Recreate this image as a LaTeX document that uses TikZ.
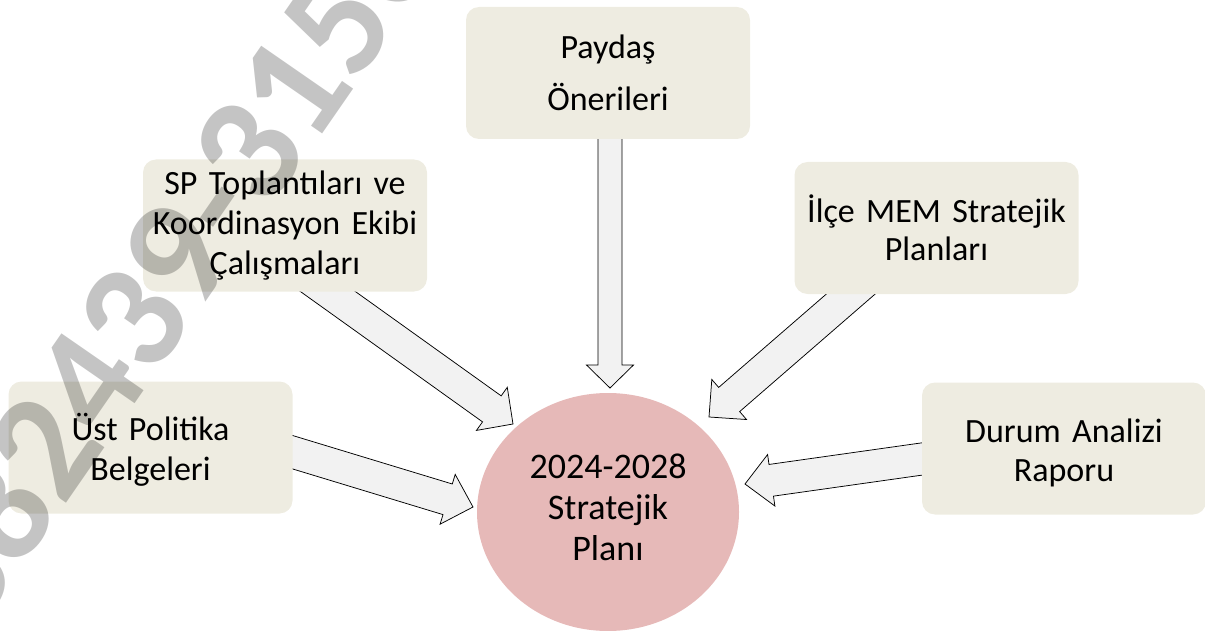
\documentclass[tikz,border=0pt]{standalone}
\usepackage{fontspec}
\setmainfont{Carlito}
\usetikzlibrary{calc,shapes.geometric}
\definecolor{boxfill}{HTML}{EEECE1}
\definecolor{planfill}{HTML}{E6B9B8}
\definecolor{arrfill}{HTML}{F2F2F2}
\tikzset{
  srcbox/.style={rectangle, rounded corners=13pt, fill=boxfill, minimum width=284pt,
    minimum height=132pt, inner sep=0pt, align=center, text width=280pt,
    font=\fontsize{34}{38.5}\selectfont},
  planshape/.style={ellipse, fill=planfill, minimum width=262pt, minimum height=238pt,
    inner sep=0pt, align=center, font=\fontsize{36}{41}\selectfont},
  blockarrow/.style={fill=arrfill, draw=black, line width=0.75pt, line join=miter},
  watermark/.style={font=\fontsize{154}{154}\bfseries\selectfont, text=black,
    text opacity=0.23, inner sep=0pt, rotate=55.3}
}
\newcommand\blockarr[5]{%
  \coordinate (ha) at ($(#2)!#5!(#1)$);
  \filldraw[blockarrow] ($(#1)!#3!-90:(#2)$) -- ($(ha)!#3!90:(#1)$) -- ($(ha)!#4!90:(#1)$)
    -- (#2) -- ($(ha)!#4!-90:(#1)$) -- ($(ha)!#3!-90:(#1)$) -- ($(#1)!#3!90:(#2)$) -- cycle;
}
\begin{document}
\begin{tikzpicture}[x=1pt,y=-1pt]
\useasboundingbox (0,0) rectangle (1205,631);
% arrow ends
\coordinate (pdtail) at (610,120);
\coordinate (pdtip) at (610,388);
\coordinate (sptail) at (302,273);
\coordinate (sptip) at (513,424);
\coordinate (usttail) at (282,449);
\coordinate (usttip) at (473,507);
\coordinate (ilcetail) at (875,273);
\coordinate (ilcetip) at (709,417);
\coordinate (durtail) at (943,456);
\coordinate (durtip) at (745,484);
% block arrows
\blockarr{pdtail}{pdtip}{12pt}{23.5pt}{23pt}
\blockarr{sptail}{sptip}{16pt}{26.5pt}{26pt}
\blockarr{usttail}{usttip}{16pt}{26pt}{26.5pt}
\blockarr{ilcetail}{ilcetip}{16pt}{26.5pt}{26.7pt}
\blockarr{durtail}{durtip}{16pt}{26pt}{26.5pt}
% boxes
\node[srcbox, font=\fontsize{34}{52}\selectfont] (paydas) at (608,73) {Paydaş\\Önerileri};
\node[srcbox, font=\fontsize{34}{40}\selectfont] (sp) at (285,225.5) {SP Toplantıları ve\\Koordinasyon Ekibi\\Çalışmaları};
\node[srcbox, font=\fontsize{34}{40}\selectfont] (ust) at (150.5,447.5) {\rule{0pt}{32pt}Üst Politika\\Belgeleri};
\node[srcbox, font=\fontsize{34}{37.5}\selectfont] (ilce) at (936.5,228) {İlçe MEM Stratejik\\Planları};
\node[srcbox] (durum) at (1064,448.5) {\rule{0pt}{32pt}Durum Analizi\\Raporu};
% centre
\node[planshape] (plan) at (608,512) {2024-2028\\Stratejik\\Planı\rule[-10pt]{0pt}{0pt}};
% watermark
\node[watermark] (wm) at (211,202) {382439-315063};
\end{tikzpicture}
\end{document}
